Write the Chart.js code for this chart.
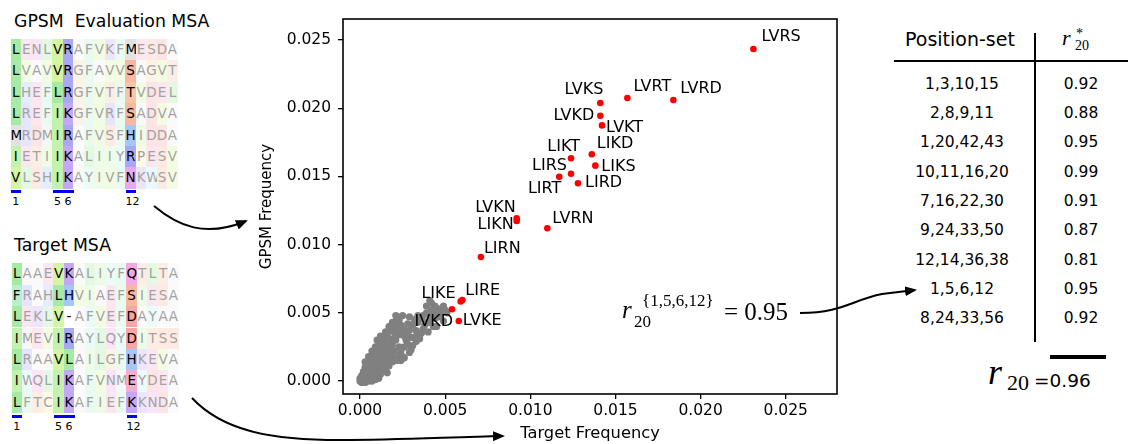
<!DOCTYPE html>
<html>
<head>
<meta charset="utf-8">
<script src="https://cdn.jsdelivr.net/npm/chart.js@4.4.1/dist/chart.umd.min.js"></script>
<style>
body { margin: 0; width: 1128px; height: 444px; overflow: hidden; background: #fff; position: relative; font-family: "DejaVu Sans", sans-serif; color: #000; }
.abs { position: absolute; white-space: pre; line-height: 1; }
.serif { font-family: "Liberation Serif", "DejaVu Serif", serif; }
.it { font-style: italic; }
.cell { position: absolute; text-align: center; font-size: 13.5px; }
#chartBox { position: absolute; left: 250px; top: 0; width: 600px; height: 444px; }
#arrows { position: absolute; left: 0; top: 0; pointer-events: none; }
</style>
</head>
<body>

<div class="abs" style="left:14px;top:13px;font-size:17.3px">GPSM  Evaluation MSA</div>
<div class="abs" style="left:14px;top:237px;font-size:17.3px">Target MSA</div>
<div id="msa"></div>

<div id="chartBox"><canvas id="scatter" width="600" height="444"></canvas></div>

<!-- annotation inside plot -->
<div class="abs serif it" style="left:622px;top:297px;font-size:25px">r</div>
<div class="abs serif" style="left:642px;top:292px;font-size:17px">{1,5,6,12}</div>
<div class="abs serif" style="left:634px;top:313px;font-size:17px">20</div>
<div class="abs serif" style="left:724px;top:299px;font-size:25px">= 0.95</div>

<!-- table -->
<div class="abs" style="left:905px;top:30px;font-size:19px">Position-set</div>
<div class="abs serif it" style="left:1062px;top:27px;font-size:22px">r</div>
<div class="abs serif" style="left:1076px;top:27px;font-size:14px">*</div>
<div class="abs serif" style="left:1075px;top:39px;font-size:14px">20</div>
<div id="tbl"></div>
<div class="abs serif it" style="left:988px;top:354px;font-size:36px">r</div>
<div class="abs serif" style="left:1007px;top:372px;font-size:22px">20</div>
<div class="abs" style="left:1034px;top:372px;font-size:18.5px">=0.96</div>

<svg id="arrows" width="1128" height="444">
  <defs>
    <marker id="head" markerWidth="12" markerHeight="10" refX="10" refY="5" orient="auto" markerUnits="userSpaceOnUse">
      <path d="M0,0 L12,5 L0,10 Z" fill="#000"/>
    </marker>
  </defs>
  <path d="M154,206 C178,226 205,238 246,221" fill="none" stroke="#000" stroke-width="2" marker-end="url(#head)"/>
  <path d="M192,398 C222,430 268,440 340,440 C400,440 450,437 503,436" fill="none" stroke="#000" stroke-width="2" marker-end="url(#head)"/>
  <path d="M800,313 C842,313 852,300 882,294 L915,290" fill="none" stroke="#000" stroke-width="2" marker-end="url(#head)"/>
  <line x1="894" y1="61" x2="1128" y2="61" stroke="#000" stroke-width="2"/>
  <line x1="1035" y1="33" x2="1035" y2="342" stroke="#000" stroke-width="2"/>
  <line x1="1050" y1="357" x2="1106" y2="357" stroke="#000" stroke-width="4"/>
</svg>

<script>
// ---------- MSA panels ----------
const gpsmRows = ['LENLVRAFVKFMESDA', 'LVAVVRGFAVVSAGVT', 'LHEFLRGFVTFTVDEL', 'LREFIKGFVRFSADVA',
                  'MRDMIRAFVSFHIDDA', 'IETIIKALIIYRPESV', 'VLSHIKAYIVFNKWSV'];
const targetRows = ['LAAEVKALIYFQTLTA', 'FRAHLHVIAEFSIESA', 'LEKLV-AFVEFDAYAA', 'IMEVIRAYLQYDITSS',
                    'LRAAVLAILGFHKEVA', 'IWQLIKAFVNMEYDEA', 'LFTCIKAFIEFKKNDA'];
const markedCols = [1, 5, 6, 12];

// ---------- table ----------
const positionSets = ['1,3,10,15', '2,8,9,11', '1,20,42,43', '10,11,16,20', '7,16,22,30',
                      '9,24,33,50', '12,14,36,38', '1,5,6,12', '8,24,33,56'];
const rStar = ['0.92', '0.88', '0.95', '0.99', '0.91', '0.87', '0.81', '0.95', '0.92'];

// ---------- scatter: highlighted sets ----------
const redNames = ['LVRS', 'LVRT', 'LVRD', 'LVKS', 'LVKD', 'LVKT', 'LIKD', 'LIKT', 'LIKS', 'LIRS',
                  'LIRT', 'LIRD', 'LVKN', 'LIKN', 'LVRN', 'LIRN', 'LIKE', 'LIRE', 'IVKD', 'LVKE'];
const redTarget = [0.0231, 0.0157, 0.0184, 0.01411, 0.01411, 0.01421, 0.01361, 0.01239, 0.01382, 0.01239,
                   0.0117, 0.0128, 0.0092, 0.0092, 0.0110, 0.0071, 0.00591, 0.00601, 0.0054, 0.0058];
const redGpsm = [0.02434, 0.02075, 0.0206, 0.02038, 0.01945, 0.01874, 0.01662, 0.01633, 0.01579, 0.0152,
                 0.01498, 0.0145, 0.01193, 0.01173, 0.0112, 0.00909, 0.00584, 0.00594, 0.00526, 0.0044];

// ---------- scatter: all other sequences ----------
const grayTarget = [
  0.0000, 0.0001, 0.0003, 0.0005, 0.0007, 0.0009, 0.0011, 0.0000, 0.0002, 0.0004, 0.0006, 0.0008, 0.0010, 0.0012,
  0.0001, 0.0003, 0.0005, 0.0007, 0.0009, 0.0011, 0.0013, 0.0002, 0.0004, 0.0006, 0.0008, 0.0010, 0.0012, 0.0014,
  0.0003, 0.0005, 0.0007, 0.0009, 0.0011, 0.0013, 0.0015, 0.0005, 0.0007, 0.0009, 0.0011, 0.0013, 0.0015, 0.0017,
  0.0006, 0.0008, 0.0010, 0.0012, 0.0014, 0.0016, 0.0008, 0.0010, 0.0012, 0.0014, 0.0011, 0.0013, 0.0009,
  0.0017, 0.0019, 0.0015, 0.0018, 0.0012, 0.0016, 0.0020, 0.0022, 0.0019, 0.0024, 0.0021, 0.0025, 0.0023, 0.0028,
  0.0029, 0.0030, 0.0033, 0.0031, 0.0034, 0.0036, 0.0038, 0.0039, 0.0041, 0.0043, 0.0044, 0.0045, 0.0048, 0.0050,
  0.0041, 0.0047, 0.0036, 0.0026, 0.0028, 0.0024, 0.0025, 0.0030, 0.0018, 0.0020, 0.0016, 0.0021, 0.0023, 0.0026,
  0.0017, 0.0020, 0.0022, 0.0034, 0.0032, 0.0029, 0.0045, 0.0049,
  0.0015, 0.0017, 0.0016, 0.0019, 0.0021, 0.0023, 0.0026, 0.0022, 0.0024, 0.0026, 0.0028, 0.0031, 0.0033, 0.0029,
  0.0023, 0.0027, 0.0030, 0.0033, 0.0035, 0.0037, 0.0040, 0.0039, 0.0041, 0.0043, 0.0046, 0.0042, 0.0037, 0.0044,
  0.0046, 0.0049, 0.0051, 0.0039, 0.0042, 0.0010, 0.0012, 0.0014, 0.0015, 0.0017, 0.0019, 0.0021, 0.0007, 0.0005,
  0.0003, 0.0004, 0.0006, 0.0008, 0.0010, 0.0012, 0.0006, 0.0008, 0.0010, 0.0012, 0.0014, 0.0016, 0.0018, 0.0013,
  0.0015, 0.0017, 0.0019, 0.0021, 0.0024, 0.0027
];
const grayGpsm = [
  0.0000, -0.0001, -0.0001, 0.0000, 0.0000, 0.0001, 0.0002, 0.0002, 0.0002, 0.0002, 0.0002, 0.0003, 0.0004, 0.0005,
  0.0004, 0.0005, 0.0004, 0.0005, 0.0006, 0.0007, 0.0008, 0.0007, 0.0008, 0.0007, 0.0008, 0.0009, 0.0010, 0.0011,
  0.0010, 0.0011, 0.0010, 0.0012, 0.0013, 0.0014, 0.0014, 0.0014, 0.0013, 0.0015, 0.0016, 0.0017, 0.0017, 0.0016,
  0.0017, 0.0018, 0.0019, 0.0020, 0.0021, 0.0020, 0.0021, 0.0023, 0.0024, 0.0024, 0.0027, 0.0029, 0.0025,
  0.0023, 0.0026, 0.0028, 0.0031, 0.0031, 0.0034, 0.0036, 0.0039, 0.0039, 0.0041, 0.0044, 0.0048, 0.0045, 0.0042,
  0.0037, 0.0041, 0.0037, 0.0041, 0.0043, 0.0035, 0.0041, 0.0050, 0.0046, 0.0040, 0.0046, 0.0052, 0.0052, 0.0052,
  0.0059, 0.0049, 0.0046, 0.0033, 0.0032, 0.0015, 0.0018, 0.0023, 0.0020, 0.0022, 0.0027, 0.0030, 0.0034, 0.0038,
  0.0037, 0.0041, 0.0047, 0.0048, 0.0045, 0.0047, 0.0040, 0.0044,
  0.0008, 0.0011, 0.0006, 0.0014, 0.0017, 0.0019, 0.0017, 0.0015, 0.0022, 0.0025, 0.0027, 0.0026, 0.0029, 0.0021,
  0.0025, 0.0030, 0.0032, 0.0033, 0.0031, 0.0038, 0.0036, 0.0043, 0.0043, 0.0049, 0.0047, 0.0052, 0.0048, 0.0055,
  0.0053, 0.0055, 0.0050, 0.0055, 0.0057, 0.0030, 0.0033, 0.0031, 0.0036, 0.0040, 0.0043, 0.0048, 0.0022, 0.0018,
  0.0014, 0.0004, 0.0005, 0.0006, 0.0007, 0.0008, 0.0010, 0.0011, 0.0011, 0.0013, 0.0015, 0.0018, 0.0017, 0.0019,
  0.0022, 0.0025, 0.0029, 0.0033, 0.0036, 0.0035
];

// label placement next to each red point: [dx, dy, align]
const labelPos = {
  LVRS: [8, -12, 'left'], LVRT: [6, -11, 'left'], LVRD: [7, -11, 'left'], LVKS: [3, -13, 'right'],
  LVKD: [-6, 0, 'right'], LVKT: [4, 2, 'left'], LIKD: [5, -10, 'left'], LIKT: [9, -11, 'right'],
  LIKS: [6, 1, 'left'], LIRS: [-4, -8, 'right'], LIRT: [2, 12, 'right'], LIRD: [7, 0, 'left'],
  LVKN: [-1, -10, 'right'], LIKN: [-3, 4, 'right'], LVRN: [5, -9, 'left'], LIRN: [3, -8, 'left'],
  LIKE: [-5, -8, 'right'], LIRE: [3, -9, 'left'], IVKD: [1, 13, 'right'], LVKE: [4, 0, 'left']
};

const aaColor = {
  L: '#a6eaa6', I: '#c2f2ae', V: '#d4f5a2', M: '#e2e2e2', F: '#b8efcf', A: '#eeeeee', W: '#b8ecf0',
  Y: '#bdf0e6', C: '#f6eeb0', K: '#c4a8f6', R: '#a8a8f4', H: '#a8c6f4', D: '#f6a6a6', E: '#f4aed0',
  N: '#e6a8ee', Q: '#f4a8e4', S: '#f6b8a0', T: '#f6c6a8', G: '#f6d6b0', P: '#f4f2b0', '-': '#ffffff'
};

function pale(hex) {
  const n = parseInt(hex.slice(1), 16);
  const mix = c => Math.round(c * 0.3 + 255 * 0.7);
  return `rgb(${mix(n >> 16)},${mix((n >> 8) & 255)},${mix(n & 255)})`;
}

function drawMsa(rows, x0, y0) {
  const w = 10.45, h = 21.4;
  const box = document.getElementById('msa');
  rows.forEach((seq, r) => {
    [...seq].forEach((aa, c) => {
      const marked = markedCols.includes(c + 1);
      const d = document.createElement('div');
      d.className = 'cell';
      d.style.left = (x0 + c * w) + 'px';
      d.style.top = (y0 + r * h) + 'px';
      d.style.width = w + 'px';
      d.style.height = h + 'px';
      d.style.lineHeight = h + 'px';
      d.style.background = marked ? aaColor[aa] : pale(aaColor[aa]);
      d.style.color = marked ? '#000' : '#a2a2a2';
      d.textContent = aa;
      box.appendChild(d);
    });
  });
  const barY = y0 + rows.length * h + 1.5;
  markedCols.forEach(c => {
    const b = document.createElement('div');
    b.style.cssText = `position:absolute;left:${x0 + (c - 1) * w + 0.5}px;top:${barY}px;width:${w}px;height:3px;background:#0000ee`;
    box.appendChild(b);
    const t = document.createElement('div');
    t.className = 'abs';
    t.style.cssText += `left:${x0 + (c - 1) * w}px;top:${barY + 6}px;width:${w}px;text-align:center;font-size:11px`;
    t.textContent = c;
    box.appendChild(t);
  });
}
drawMsa(gpsmRows, 10.5, 39);
drawMsa(targetRows, 11.5, 263.3);

// table rows
const tbl = document.getElementById('tbl');
positionSets.forEach((p, i) => {
  const cy = 84 + i * 29.35;
  tbl.insertAdjacentHTML('beforeend',
    `<div class="abs" style="left:900px;width:124px;text-align:center;top:${cy - 7.4}px;font-size:15.5px">${p}</div>` +
    `<div class="abs" style="left:1050px;width:62px;text-align:center;top:${cy - 7.4}px;font-size:15.5px">${rStar[i]}</div>`);
});

// ---------- chart ----------
const framePlugin = {
  id: 'frame',
  afterDraw(chart) {
    const { ctx, chartArea: a } = chart;
    ctx.save();
    ctx.strokeStyle = '#000';
    ctx.lineWidth = 1.6;
    ctx.strokeRect(a.left, a.top, a.right - a.left, a.bottom - a.top);
    ctx.restore();
  }
};

const pointLabels = {
  id: 'pointLabels',
  afterDatasetsDraw(chart) {
    const ctx = chart.ctx;
    const meta = chart.getDatasetMeta(0);
    ctx.save();
    ctx.font = '16px "DejaVu Sans"';
    ctx.fillStyle = '#000';
    ctx.textBaseline = 'middle';
    meta.data.forEach((pt, i) => {
      const [dx, dy, align] = labelPos[redNames[i]];
      ctx.textAlign = align;
      ctx.fillText(redNames[i], pt.x + dx, pt.y + dy);
    });
    ctx.restore();
  }
};

const tickFont = { family: 'DejaVu Sans', size: 15.5 };
const gridStyle = { display: true, drawOnChartArea: false, drawTicks: true, tickLength: 5, color: '#000', lineWidth: 1.3 };

new Chart(document.getElementById('scatter').getContext('2d'), {
  type: 'scatter',
  data: {
    datasets: [
      {
        label: 'selected',
        data: redTarget.map((x, i) => ({ x, y: redGpsm[i] })),
        backgroundColor: '#ff0000', borderWidth: 0, pointRadius: 3.3
      },
      {
        label: 'other',
        data: grayTarget.map((x, i) => ({ x, y: grayGpsm[i] })),
        backgroundColor: '#808080', borderWidth: 0, pointRadius: 3.6
      }
    ]
  },
  options: {
    responsive: false,
    animation: false,
    layout: { padding: { top: 19, right: 13, left: 0, bottom: 0 } },
    plugins: { legend: { display: false }, tooltip: { enabled: false } },
    scales: {
      x: {
        type: 'linear', min: -0.001, max: 0.02801,
        afterFit: s => { s.height = 50; },
        border: { display: false },
        grid: gridStyle,
        ticks: { stepSize: 0.005, includeBounds: false, color: '#000', font: tickFont, padding: 3, maxRotation: 0,
                 callback: v => v.toFixed(3) },
        title: { display: true, text: 'Target Frequency', color: '#000', font: { family: 'DejaVu Sans', size: 16.3 }, padding: { top: 0, bottom: 0 } }
      },
      y: {
        type: 'linear', min: -0.00095, max: 0.02654,
        afterFit: s => { s.width = 93; },
        border: { display: false },
        grid: gridStyle,
        ticks: { stepSize: 0.005, includeBounds: false, color: '#000', font: tickFont, padding: 7,
                 callback: v => v.toFixed(3) },
        title: { display: true, text: 'GPSM Frequency', color: '#000', font: { family: 'DejaVu Sans', size: 15 }, padding: { top: 8, bottom: 0 } }
      }
    }
  },
  plugins: [framePlugin, pointLabels]
});
</script>
</body>
</html>
